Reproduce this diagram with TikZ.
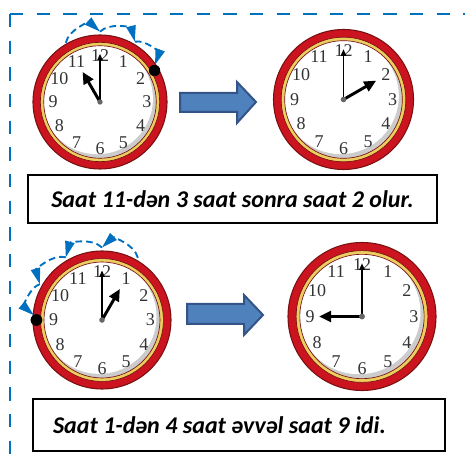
\documentclass[tikz,border=0pt]{standalone}
\usepackage{fontspec}
\usetikzlibrary{arrows.meta}
\newfontfamily\capfont{Carlito}
\newfontfamily\dialfont{Liberation Serif}
\definecolor{framebl}{RGB}{0,112,192}
\definecolor{rimred}{RGB}{204,20,32}
\definecolor{rimdark}{RGB}{120,16,16}
\definecolor{rimgold}{RGB}{236,206,96}
\definecolor{arrfill}{RGB}{79,129,189}
\definecolor{arrline}{RGB}{52,84,136}

% dial of one clock, radius 1 in the scope's units
\newcommand\clockdial[1]{%
\fill[rimred,draw=rimdark,line width=0.8pt] (0,0) circle (1);
\fill[rimgold,draw=rimdark,line width=0.5pt] (0,0) circle (0.89);
\begin{scope}
\clip (0,0) circle (0.84);
\fill[black!20] (0,0) circle (0.84);
\fill[white] (-0.04,0.05) circle (0.83);
\end{scope}
\draw[rimdark,line width=0.5pt] (0,0) circle (0.84);
\foreach \h in {1,...,12}
  \node[dialnum] (#1n\h) at ({90-30*\h}:0.7) {\h};
}

\begin{document}
\begin{tikzpicture}[x=0.75pt,y=0.75pt,
  dialnum/.style={inner sep=0pt,text=black!80,font=\dialfont\fontsize{13.5}{15}\selectfont},
  minhand/.style={line width=1.3pt,-{Triangle[length=5pt,width=4pt]}},
  hrhand/.style={line width=2.2pt,-{Triangle[length=9pt,width=8pt]}},
  hop/.style={framebl,line width=1.4pt,dash pattern=on 5pt off 3pt,-{Triangle[length=12pt,width=7pt]}},
  caption/.style={draw=black,line width=1.2pt,font=\capfont\bfseries\itshape\fontsize{18}{21}\selectfont}]
\useasboundingbox (0,0) rectangle (465,467);
% frame
\draw[framebl,line width=2.2pt,dash pattern=on 10pt off 10pt] (10,453) -- (465,453);
\draw[framebl,line width=2.2pt,dash pattern=on 10pt off 10pt] (10,453) -- (10,0);
% first row
\begin{scope}[shift={(100,365)},x=50.25pt,y=50.25pt]
\clockdial{a}
\draw[minhand] (0,0) -- (90:0.72);
\draw[hrhand] (0,0) -- (120:0.52);
\fill[black!60] (0,0) circle (0.04);
\draw[hop] (120:1.02) to[bend left=60] (90:1.05);
\draw[hop] (90:1.05) to[bend left=60] (60:1.04);
\draw[hop] (60:1.04) to[bend left=60] (34:0.99);
\fill (30:0.94) circle (0.085);
\end{scope}
\filldraw[fill=arrfill,draw=arrline,line width=1.5pt] (180,355) -- (237,355) -- (237,344) -- (256,365) -- (237,385) -- (237,374) -- (180,374) -- cycle;
\begin{scope}[shift={(343.5,367.5)},x=52.5pt,y=52.5pt]
\clockdial{b}
\draw[minhand] (0,0) -- (90:0.72);
\draw[hrhand] (0,0) -- (30:0.54);
\fill[black!60] (0,0) circle (0.04);
\end{scope}
\node[caption,minimum width=306.75pt,minimum height=36pt] (cap1) at (232.5,268) {Saat 11-dən 3 saat sonra saat 2 olur.};
% second row
\begin{scope}[shift={(102,147)},x=51.75pt,y=51.75pt]
\clockdial{c}
\draw[minhand] (0,0) -- (90:0.72);
\draw[hrhand] (0,0) -- (60:0.52);
\fill[black!60] (0,0) circle (0.04);
\draw[hop] (60:1.04) to[bend right=60] (90:1.05);
\draw[hop] (90:1.05) to[bend right=60] (120:1.05);
\draw[hop] (120:1.05) to[bend right=60] (150:1.04);
\draw[hop] (150:1.04) to[bend right=60] (176:0.99);
\fill (180:0.95) circle (0.085);
\end{scope}
\filldraw[fill=arrfill,draw=arrline,line width=1.5pt] (187,143) -- (244,143) -- (244,132) -- (263,152) -- (244,172) -- (244,163) -- (187,163) -- cycle;
\begin{scope}[shift={(362,150.5)},x=55.5pt,y=55.5pt]
\clockdial{d}
\draw[minhand] (0,0) -- (90:0.72);
\draw[hrhand] (0,0) -- (180:0.58);
\fill[black!60] (0,0) circle (0.04);
\end{scope}
\node[caption,text width=279pt,align=flush left,inner xsep=15pt,minimum height=39pt] (cap2) at (239,42) {Saat 1-dən 4 saat əvvəl saat 9 idi.};
\end{tikzpicture}
\end{document}
